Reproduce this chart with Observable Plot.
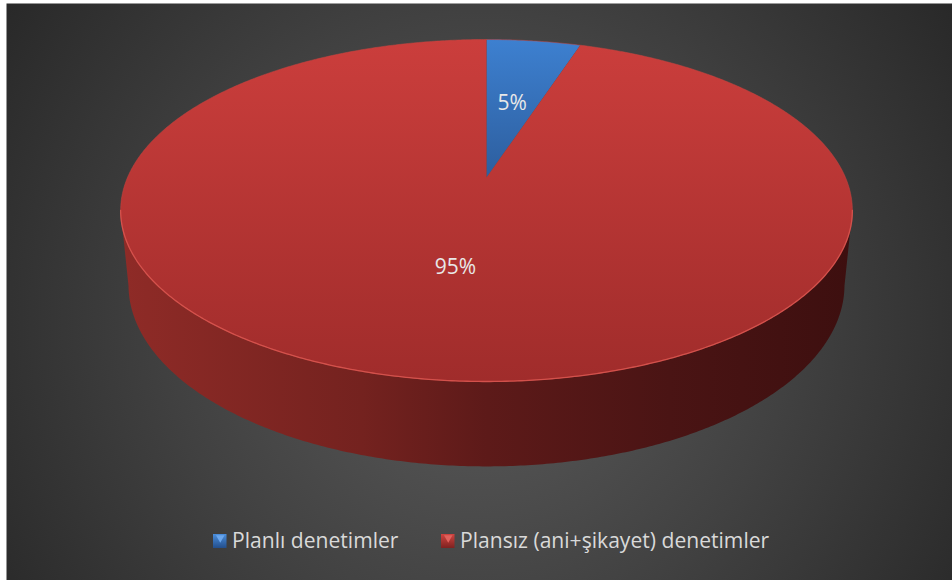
<!DOCTYPE html>
<html><head><meta charset="utf-8">
<script src="https://cdn.jsdelivr.net/npm/d3@7"></script>
<script src="https://cdn.jsdelivr.net/npm/@observablehq/plot@0.6"></script>
<style>body{margin:0;background:#fff;} svg{display:block}</style>
</head><body><div id="chart"></div>
<script>
// ---- data ----
const categories = ["Planlı denetimler", "Plansız (ani+şikayet) denetimler"];
const values = [5, 95];
const labels = ["5%", "95%"];

// ---- layout / style ----
const W = 952, H = 580;
const topFills = ["url(#gBlue)", "url(#gRed)"];
const sideFills = ["url(#gBlueSide)", "url(#gRedSide)"];
const keyFills = ["url(#kBlue)", "url(#kRed)"];
const keyTips = ["#6aa6ec", "#e0625c"];
const FONT = "'Open Sans', 'DejaVu Sans', sans-serif";

// perspective view of the pie disk (u,v in unit disk, v>0 toward viewer)
const view = {cx: 486, s: 359, a: 130.47, b: 177, c: -0.193, p: 78.4, q: 0.0212};
function project(u, v, bottom) {
  const d = 1 + view.c * v + (bottom ? view.q : 0);
  return [view.cx + view.s * u / d, (view.a * v + view.b + (bottom ? view.p : 0)) / d];
}
function at(angle, r, bottom) { // clockwise from 12 o'clock
  return project(r * Math.sin(angle), -r * Math.cos(angle), bottom);
}
function arcPoints(a0, a1, r, bottom) {
  const n = Math.max(2, Math.ceil(Math.abs(a1 - a0) / (Math.PI / 360)));
  return d3.range(n + 1).map(i => at(a0 + (a1 - a0) * i / n, r, bottom));
}
const toRows = pts => pts.map(([x, y]) => ({x, y}));

const arcs = d3.pie().sort(null).value(d => d)(values);

// top faces
const tops = arcs.map(d => {
  const pts = [at(0, 0, false), ...arcPoints(d.startAngle, d.endAngle, 1, false)];
  pts.push(pts[0]);
  return toRows(pts);
});
// visible side (front half between silhouettes)
const aR = Math.acos(view.c), aL = 2 * Math.PI - aR;
const sides = arcs.map(d => {
  const a0 = Math.max(d.startAngle, aR), a1 = Math.min(d.endAngle, aL);
  if (a1 <= a0) return null;
  const pts = [...arcPoints(a0, a1, 1, false), ...arcPoints(a1, a0, 1, true)];
  pts.push(pts[0]);
  return toRows(pts);
});
// silhouette for the drop shadow
const silhouette = toRows([...arcPoints(aL - 2 * Math.PI, aR, 1, false), ...arcPoints(aR, aL, 1, true)])
  .map(d => ({x: d.x + 3, y: d.y + 4}));
const frontEdge = toRows(arcPoints(aR, aL, 1, false));
const rim = toRows(arcPoints(0, 2 * Math.PI, 1, false));

// slice labels at mid-angle, half radius
const labelRows = arcs.map((d, i) => {
  const [x, y] = at((d.startAngle + d.endAngle) / 2, 0.5, false);
  return {x, y, text: labels[i]};
});

// legend layout
const legendY = 541, keySize = 13.5;
const legendX = [213, 441];
const legendRows = categories.map((c, i) => ({
  name: c, x1: legendX[i], x2: legendX[i] + keySize, y1: legendY - 7, y2: legendY + 7,
  tx: legendX[i] + keySize + 5, i
}));

const marks = [
  Plot.frame({fill: "url(#bg)", stroke: "none", insetLeft: 6, insetTop: 3}),
  Plot.line(silhouette, {x: "x", y: "y", fill: "#000", fillOpacity: 0.55, stroke: "none", ariaLabel: "shadow"}),
];
sides.forEach((s, i) => { if (s) marks.push(Plot.line(s, {x: "x", y: "y", fill: sideFills[i], stroke: "none", curve: "linear"})); });
tops.forEach((t, i) => marks.push(Plot.line(t, {x: "x", y: "y", fill: topFills[i], stroke: "none", curve: "linear"})));
marks.push(
  Plot.line(rim, {x: "x", y: "y", stroke: "#c9433f", strokeWidth: 1, strokeOpacity: 0.5}),
  Plot.line(frontEdge, {x: "x", y: "y", stroke: "#dc5650", strokeWidth: 1.3, strokeOpacity: 0.85}),
  Plot.text(labelRows, {x: "x", y: "y", text: "text", fill: "#e8e8e8", fontSize: 21, fontFamily: FONT}),
  Plot.rect(legendRows, {x1: "x1", x2: "x2", y1: "y1", y2: "y2", fill: (d) => keyFills[d.i]}),
  Plot.dot(legendRows, {x: d => (d.x1 + d.x2) / 2, y: d => d.y1 + 3.2, symbol: "triangle", rotate: 180, r: 3.2, fill: d => keyTips[d.i], stroke: "none"}),
  Plot.text(legendRows, {x: "tx", y: legendY, text: "name", textAnchor: "start", fill: "#d9d9d9", fontSize: 21.1, fontFamily: FONT})
);

const chart = Plot.plot({
  width: W, height: H, margin: 0,
  x: {domain: [0, W], range: [0, W], axis: null},
  y: {domain: [0, H], range: [0, H], axis: null},
  color: {type: "identity"},
  style: {background: "#ffffff"},
  marks
});

const svg = d3.select(chart.tagName.toLowerCase() === "svg" ? chart : chart.querySelector("svg"));
svg.insert("defs", ":first-child").html(`
  <radialGradient id="bg" gradientUnits="userSpaceOnUse" cx="480" cy="320" r="620">
    <stop offset="0" stop-color="#5c5c5c"/>
    <stop offset="0.5" stop-color="#414141"/>
    <stop offset="1" stop-color="#242424"/>
  </radialGradient>
  <linearGradient id="gRed" gradientUnits="userSpaceOnUse" x1="0" y1="39" x2="0" y2="381">
    <stop offset="0" stop-color="#cb3e3c"/>
    <stop offset="1" stop-color="#a02c2b"/>
  </linearGradient>
  <linearGradient id="gBlue" gradientUnits="userSpaceOnUse" x1="0" y1="39" x2="0" y2="177">
    <stop offset="0" stop-color="#3d80d0"/>
    <stop offset="1" stop-color="#2d5e9e"/>
  </linearGradient>
  <linearGradient id="gRedSide" gradientUnits="userSpaceOnUse" x1="120" y1="0" x2="852" y2="0">
    <stop offset="0" stop-color="#8f2b27"/>
    <stop offset="0.33" stop-color="#74221f"/>
    <stop offset="0.5" stop-color="#5d1a19"/>
    <stop offset="0.75" stop-color="#4a1414"/>
    <stop offset="1" stop-color="#3d0f0f"/>
  </linearGradient>
  <linearGradient id="gBlueSide" gradientUnits="userSpaceOnUse" x1="120" y1="0" x2="852" y2="0">
    <stop offset="0" stop-color="#2b5a96"/>
    <stop offset="1" stop-color="#142a48"/>
  </linearGradient>
  <linearGradient id="kBlue" x1="0" y1="0" x2="0" y2="1">
    <stop offset="0" stop-color="#4a8edc"/>
    <stop offset="1" stop-color="#234f8c"/>
  </linearGradient>
  <linearGradient id="kRed" x1="0" y1="0" x2="0" y2="1">
    <stop offset="0" stop-color="#d04440"/>
    <stop offset="1" stop-color="#7e2220"/>
  </linearGradient>
  <filter id="blur" x="-10%" y="-10%" width="120%" height="130%">
    <feGaussianBlur stdDeviation="4"/>
  </filter>
`);
svg.selectAll('g[aria-label="shadow"]').attr("filter", "url(#blur)");
document.getElementById("chart").appendChild(chart);
</script>
</body></html>
